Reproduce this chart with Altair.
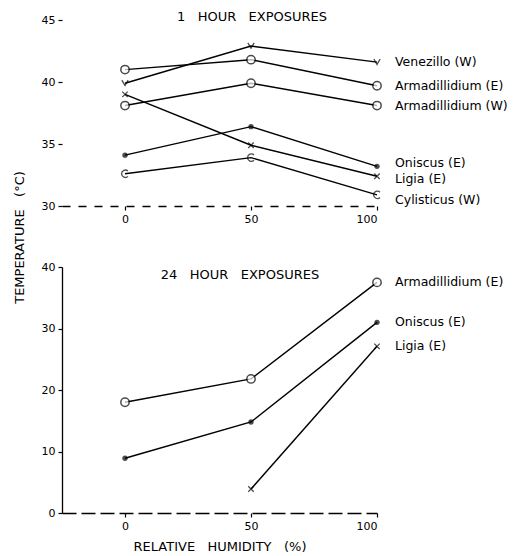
import altair as alt
import pandas as pd

FONT = "DejaVu Sans"
SP = "\u00a0\u00a0\u00a0"  # wide word gap, as in the lettered original

humidity = [0, 50, 100]

# ---- 1 hour exposures ----
h1_series = ["Venezillo (W)", "Armadillidium (E)", "Armadillidium (W)",
             "Oniscus (E)", "Ligia (E)", "Cylisticus (W)"]
h1_marker = ["vee", "open", "open", "dot", "cross", "cee"]
venezillo_w = [39.9, 42.9, 41.6]
armadillidium_e_1h = [41.0, 41.8, 39.7]
armadillidium_w = [38.1, 39.9, 38.1]
oniscus_e_1h = [34.1, 36.4, 33.2]
ligia_e_1h = [39.0, 34.9, 32.4]
cylisticus_w = [32.6, 33.9, 30.9]
h1_values = [venezillo_w, armadillidium_e_1h, armadillidium_w,
             oniscus_e_1h, ligia_e_1h, cylisticus_w]

# ---- 24 hour exposures ----
h24_series = ["Armadillidium (E)", "Oniscus (E)", "Ligia (E)"]
h24_marker = ["open", "dot", "cross"]
armadillidium_e_24h = [18.0, 21.8, 37.5]
oniscus_e_24h = [8.9, 14.8, 31.0]
ligia_humidity_24h = [50, 100]
ligia_e_24h = [3.9, 27.1]
h24_values = [armadillidium_e_24h, oniscus_e_24h, ligia_e_24h]
h24_x = [humidity, humidity, ligia_humidity_24h]


def build(series, markers, values, xs):
    rows = []
    for s, m, vals, xx in zip(series, markers, values, xs):
        for x, v in zip(xx, vals):
            rows.append({"series": s, "marker": m, "rh": x, "temp": v})
    return pd.DataFrame(rows)


df1 = build(h1_series, h1_marker, h1_values, [humidity] * len(h1_series))
df24 = build(h24_series, h24_marker, h24_values, h24_x)

marker_styles = {
    "open": dict(shape="circle", filled=True, fill="white", stroke="black", strokeWidth=1.5, size=70),
    "dot": dict(shape="circle", filled=True, color="black", size=28),
    "cross": dict(shape="M-1,-1L1,1M-1,1L1,-1", filled=False, stroke="black", strokeWidth=1.3, size=30),
    "vee": dict(shape="M-1,-1L0,0.7L1,-1", filled=False, stroke="black", strokeWidth=1.3, size=40),
    "cee": dict(shape="M0.8,-0.7A1,1,0,1,0,0.8,0.7", filled=False, stroke="black", strokeWidth=1.3, size=55),
}


def panel(df, ydomain, yvalues, height, title, title_x, title_y,
          label_dy, xtitle, ytitle, xdash, ydomain_show):
    x_axis = dict(values=humidity, title=xtitle, tickSize=4, labelPadding=3,
                  domainDash=xdash, titleFont=FONT, titleFontSize=13,
                  titleFontWeight="normal", titlePadding=9)
    x = alt.X("rh:Q", scale=alt.Scale(domain=[-25, 100], nice=False),
              axis=alt.Axis(**x_axis))
    y_axis = dict(values=yvalues, tickSize=4, labelPadding=3, domain=ydomain_show)
    if ytitle:
        y_axis.update(title=ytitle, titleX=-36, titleY=217, titleFont=FONT,
                      titleFontSize=13, titleFontWeight="normal")
    else:
        y_axis.update(title=None)
    y = alt.Y("temp:Q", scale=alt.Scale(domain=ydomain, nice=False, zero=False),
              axis=alt.Axis(**y_axis))

    base = alt.Chart(df)
    layers = [base.mark_line(color="black", strokeWidth=1.4).encode(
        x=x, y=y, detail="series:N")]
    for m in df["marker"].unique():
        layers.append(base.transform_filter(alt.datum.marker == m)
                      .mark_point(**marker_styles[m]).encode(x=x, y=y))
    for s in df["series"].unique():
        layers.append(base.transform_filter((alt.datum.series == s) & (alt.datum.rh == 100))
                      .mark_text(align="left", baseline="middle", dx=18,
                                 dy=label_dy.get(s, 0), font=FONT, fontSize=12.5,
                                 color="black")
                      .encode(x=x, y=y, text="series:N"))
    layers.append(alt.Chart(pd.DataFrame({"t": [title]}))
                  .mark_text(align="center", baseline="middle", font=FONT,
                             fontSize=13, color="black")
                  .encode(x=alt.value(title_x), y=alt.value(title_y), text="t:N"))
    return alt.layer(*layers).properties(width=315, height=height)


top = panel(df1, [30, 45], [30, 35, 40, 45], 186, f"1{SP}HOUR{SP}EXPOSURES", 190, -3,
            {"Oniscus (E)": -3, "Ligia (E)": 3, "Cylisticus (W)": 5},
            None, f"TEMPERATURE{SP}(°C)", [8, 8], False)
bottom = panel(df24, [0, 40], [0, 10, 20, 30, 40], 246, f"24{SP}HOUR{SP}EXPOSURES", 178, 8,
               {}, f"RELATIVE{SP}HUMIDITY{SP}(%)", None, [14, 5], True)

chart = alt.vconcat(top, bottom, spacing=61, bounds="flush").properties(
    padding={"left": 5, "top": 3, "right": 0, "bottom": 0}
).configure_view(stroke=None).configure_axis(
    grid=False, domainColor="black", tickColor="black", labelColor="black",
    titleColor="black", labelFont=FONT, labelFontSize=11, domainWidth=1.3,
    tickWidth=1.2
)

chart.save("out.html", embed_options={"renderer": "svg", "actions": False})
